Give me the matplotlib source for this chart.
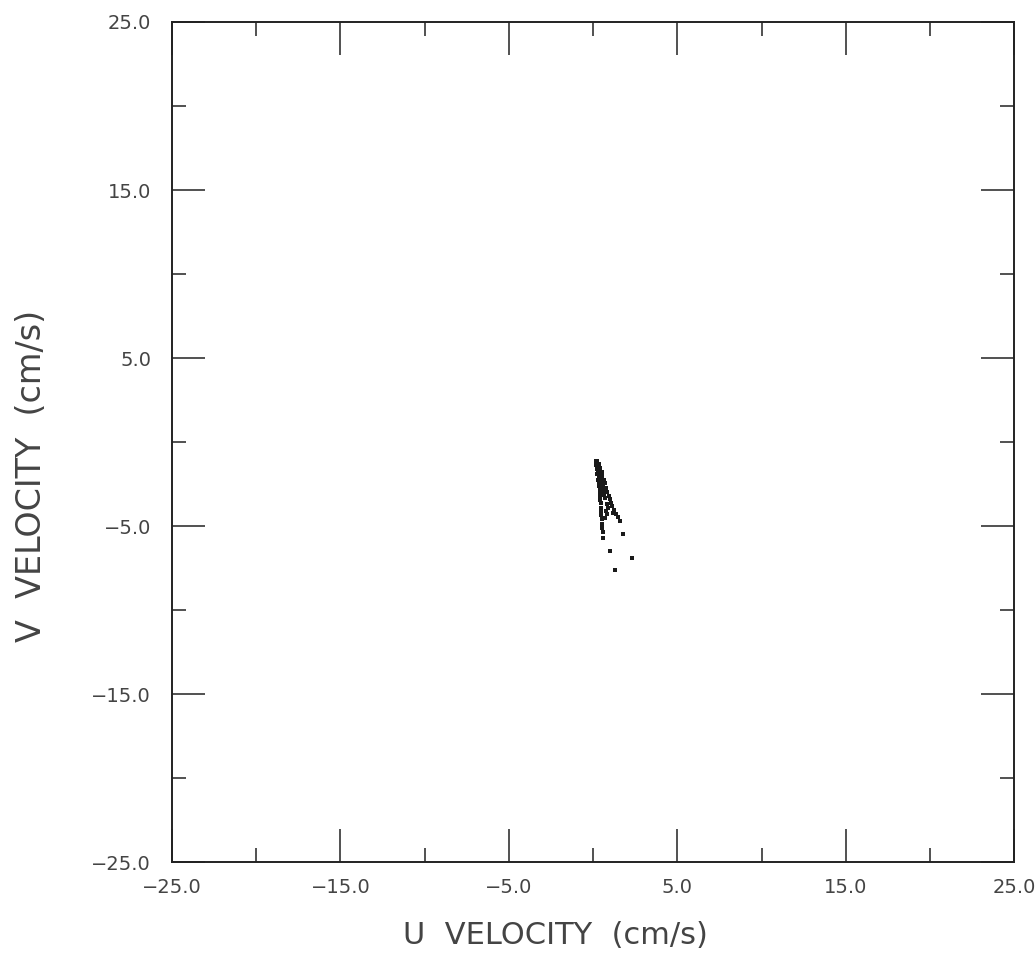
import matplotlib
matplotlib.use("Agg")
import matplotlib.pyplot as plt
from matplotlib.ticker import FixedLocator, FuncFormatter

# u/v velocity samples (cm/s)
U_VEL = [0.15, 0.20, 0.25, 0.18, 0.24, 0.30, 0.22, 0.28, 0.35, 0.26, 0.33, 0.30,
         0.36, 0.34, 0.40, 0.38, 0.42, 0.40, 0.45, 0.44, 0.48, 0.46, 0.50, 0.52,
         0.50, 0.56, 0.58,
         0.35, 0.42, 0.50, 0.55, 0.62, 0.70, 0.76, 0.85, 0.92, 1.00, 1.08, 1.15,
         1.25, 1.35, 1.45, 1.58,
         0.45, 0.55, 0.60, 0.65, 0.72, 0.80, 0.78, 0.70, 0.85,
         0.28, 0.38, 0.47, 0.52, 0.60, 0.66, 0.90, 1.20,
         1.78, 1.01, 2.32, 1.31]
V_VEL = [-1.10, -1.20, -1.15, -1.35, -1.45, -1.40, -1.60, -1.75, -1.70, -1.90, -2.05, -2.25,
         -2.40, -2.60, -2.80, -3.00, -3.20, -3.45, -3.65, -3.90, -4.10, -4.35, -4.60, -4.85,
         -5.10, -5.35, -5.70,
         -1.30, -1.55, -1.80, -2.00, -2.25, -2.45, -2.70, -2.95, -3.20, -3.40, -3.60, -3.80,
         -4.05, -4.25, -4.45, -4.70,
         -1.95, -2.30, -2.65, -3.00, -3.35, -3.70, -4.10, -4.50, -4.30,
         -1.55, -1.85, -2.15, -2.50, -2.85, -3.15, -3.90, -4.20,
         -5.46, -6.47, -6.89, -7.60]

LIMITS = (-25.0, 25.0)
MAJOR_TICKS = [-25, -15, -5, 5, 15, 25]
MINOR_TICKS = [-20, -10, 0, 10, 20]


def fmt_tick(val, pos):
    return ('%.1f' % val).replace('-', '\u2212')


def main():
    fig = plt.figure(figsize=(10.36, 9.56), dpi=100)
    ax = fig.add_axes([0.166, 0.098, 0.813, 0.879])

    ax.plot(U_VEL, V_VEL, linestyle='none', marker='s', markersize=3.2,
            color='#1a1a1a', markeredgewidth=0)

    ax.set_xlim(*LIMITS)
    ax.set_ylim(*LIMITS)
    for axis in (ax.xaxis, ax.yaxis):
        axis.set_major_locator(FixedLocator(MAJOR_TICKS))
        axis.set_minor_locator(FixedLocator(MINOR_TICKS))
        axis.set_major_formatter(FuncFormatter(fmt_tick))

    for spine in ax.spines.values():
        spine.set_linewidth(1.4)
        spine.set_color('#222222')

    ax.tick_params(which='both', direction='in', top=True, right=True,
                   color='#222222', width=1.1)
    ax.tick_params(which='major', length=24)
    ax.tick_params(which='minor', length=10)
    ax.tick_params(axis='x', which='major', labelsize=14, pad=11,
                   labelcolor='#444444')
    ax.tick_params(axis='y', which='major', labelsize=14, pad=15,
                   labelcolor='#444444')

    ax.set_xlabel('U  VELOCITY  (cm/s)', fontsize=22, color='#444444')
    ax.set_ylabel('V  VELOCITY  (cm/s)', fontsize=24, color='#444444')
    ax.xaxis.set_label_coords(0.455, -0.07)
    ax.yaxis.set_label_coords(-0.147, 0.46)

    plt.savefig('out.png', dpi=100)
    plt.close('all')


if __name__ == '__main__':
    main()
